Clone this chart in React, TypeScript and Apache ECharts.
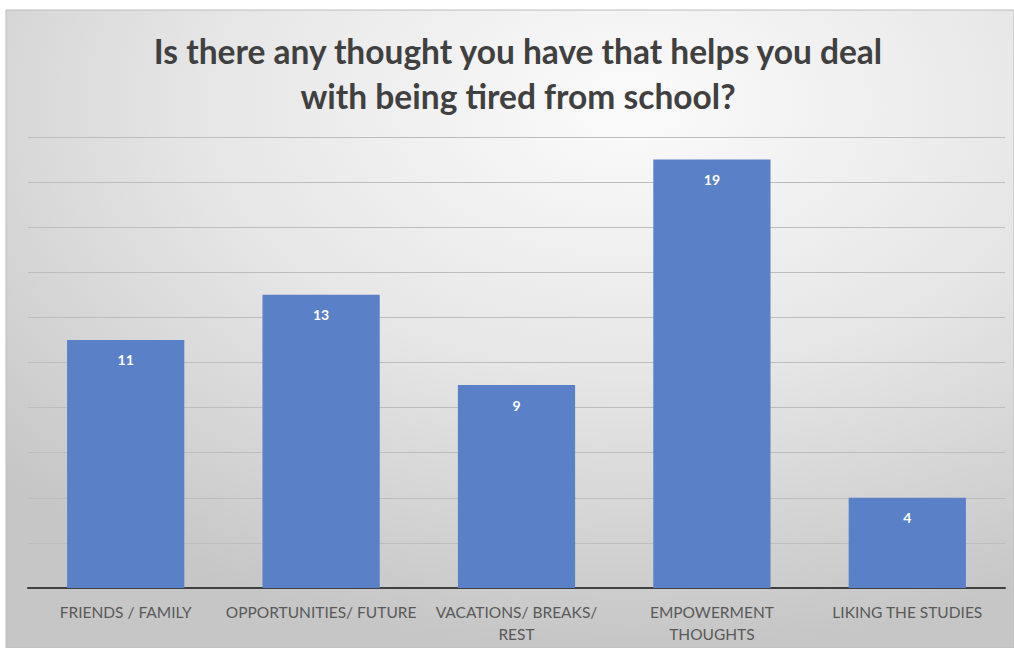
import React, { useEffect, useRef } from "react";
import * as echarts from "echarts";

const categories = [
  "FRIENDS / FAMILY",
  "OPPORTUNITIES/ FUTURE",
  "VACATIONS/ BREAKS/\nREST",
  "EMPOWERMENT\nTHOUGHTS",
  "LIKING THE STUDIES",
];
const values = [11, 13, 9, 19, 4];
const titleText = "Is there any thought you have that helps you deal\nwith being tired from school?";

export default function App() {
  const ref = useRef<HTMLDivElement>(null);
  useEffect(() => {
    document.body.style.margin = "0";
    const chart = echarts.init(ref.current!, null, { renderer: "svg" });
    chart.setOption({
      animation: false,
      backgroundColor: "#ffffff",
      graphic: [
        {
          type: "rect",
          z: -10,
          silent: true,
          shape: { x: 6, y: 10, width: 1008, height: 638 },
          style: {
            fill: new echarts.graphic.RadialGradient(0.62, 0.15, 0.85, [
              { offset: 0, color: "#fbfbfb" },
              { offset: 0.5, color: "#e6e6e6" },
              { offset: 1, color: "#c6c6c6" },
            ]),
            stroke: "#bcbcbc",
            lineWidth: 1,
          },
        },
      ],
      title: {
        text: titleText,
        left: 513,
        textAlign: "center",
        top: 23,
        textStyle: {
          fontFamily: "Lato",
          fontWeight: "bold",
          fontSize: 33.5,
          color: "#404040",
          lineHeight: 45,
        },
      },
      grid: { left: 28, right: 9, top: 137, bottom: 60, containLabel: false },
      xAxis: {
        type: "category",
        data: categories,
        axisLine: { lineStyle: { color: "#404040", width: 2 } },
        axisTick: { show: false },
        axisLabel: {
          interval: 0,
          margin: 13,
          fontFamily: "Lato",
          fontSize: 15.5,
          color: "#595959",
          lineHeight: 22,
        },
      },
      yAxis: {
        type: "value",
        min: 0,
        max: 20,
        interval: 2,
        axisLabel: { show: false },
        axisLine: { show: false },
        axisTick: { show: false },
        splitLine: { lineStyle: { color: "#bdbdbd", width: 1 } },
      },
      series: [
        {
          type: "bar",
          data: values,
          barWidth: "60%",
          itemStyle: { color: "#5a80c8" },
          label: {
            show: true,
            position: "insideTop",
            distance: 13,
            color: "#ffffff",
            fontFamily: "Lato",
            fontWeight: "bold",
            fontSize: 14,
          },
        },
      ],
    });
    return () => chart.dispose();
  }, []);
  return <div ref={ref} style={{ width: 1014, height: 648 }} />;
}
